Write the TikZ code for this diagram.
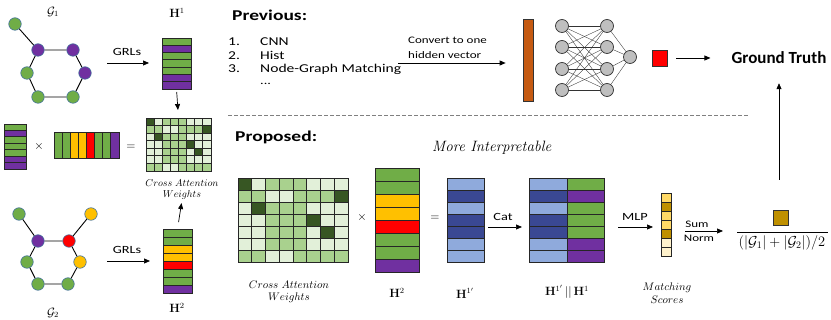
\documentclass[tikz,border=0pt]{standalone}
\usepackage[no-math]{fontspec}
\setmainfont[FakeStretch=1.3]{Carlito}
\newfontfamily\gtfont{Carlito}
\newfontfamily\lmfont{Latin Modern Roman}
\usetikzlibrary{arrows.meta}
\definecolor{cgr}{HTML}{70AD47}
\definecolor{cpu}{HTML}{7030A0}
\definecolor{cye}{HTML}{FFC000}
\definecolor{crd}{HTML}{FF0000}
\definecolor{clb}{HTML}{8FAADC}
\definecolor{cdb}{HTML}{3A4893}
\definecolor{cdk}{HTML}{375623}
\definecolor{cmd}{HTML}{A9D18E}
\definecolor{clt}{HTML}{E2F0D9}
\definecolor{cor}{HTML}{C55A11}
\definecolor{cgy}{HTML}{BFBFBF}
\definecolor{cgold}{HTML}{BF9000}
\definecolor{cly}{HTML}{FFD966}
\definecolor{cpl}{HTML}{FFF2CC}
\definecolor{cbl}{HTML}{41719C}
\newcommand\colvec[5]{\foreach \c [count=\i from 0] in {#5}{\filldraw[fill=\c,cellline] ({#1},{#2+\i*#4}) rectangle ++(#3,#4);}}
\newcommand\rowvec[5]{\foreach \c [count=\i from 0] in {#5}{\filldraw[fill=\c,cellline] ({#1+\i*#3},{#2}) rectangle ++(#3,#4);}}
\newcommand\attmat[4]{\foreach \rw [count=\r from 0] in {{cdk,clt,cmd,cmd,cmd,clt,clt,clt},{cmd,cmd,clt,clt,cmd,cmd,cmd,cdk},{clt,cdk,cmd,cmd,cmd,clt,clt,clt},{clt,clt,cmd,cmd,cmd,cdk,clt,clt},{clt,clt,cmd,cmd,cmd,clt,cdk,clt},{clt,clt,cmd,cmd,cmd,clt,clt,clt},{cmd,cmd,clt,clt,cmd,cmd,cmd,cmd}}{\foreach \c [count=\k from 0] in \rw {\filldraw[fill=\c,cellline] ({#1+\k*#3},{#2+\r*#4}) rectangle ++(#3,#4);}}}
\begin{document}
\begin{tikzpicture}[x=1pt,y=-1pt,
  cellline/.style={draw=black!85,line width=0.8pt},
  gnode/.style={circle,draw=cbl,line width=0.6pt,minimum size=12.5pt,inner sep=0pt},
  nnode/.style={circle,draw=black!80,fill=cgy,line width=0.7pt,minimum size=13pt,inner sep=0pt},
  gedge/.style={line width=0.9pt,black},
  nedge/.style={line width=0.35pt,black!80},
  arr/.style={-{Triangle[length=6pt,width=5pt]},line width=0.7pt},
  vbox/.style={inner sep=0pt,outer sep=0pt},
  txt/.style={inner sep=0pt,font=\fontsize{11}{13}\selectfont},
  ltxt/.style={inner sep=0pt,font=\fontsize{12}{14}\selectfont},
  stxt/.style={inner sep=0pt,font=\fontsize{10}{12}\selectfont},
  head/.style={inner sep=0pt,font=\fontsize{15}{18}\selectfont\bfseries},
  mlab/.style={inner sep=0pt,font=\fontsize{11.5}{13}\selectfont},
  mit/.style={inner sep=0pt,font=\fontsize{10}{12}\selectfont,align=center}
]
\useasboundingbox (0,0) rectangle (831,320);

% ---------- Graph G1 ----------
\node[gnode,fill=cgr] (a1) at (15,24) {};
\node[gnode,fill=cpu] (a2) at (38,50) {};
\node[gnode,fill=cpu] (a3) at (73,50) {};
\node[gnode,fill=cgr] (a4) at (27,73) {};
\node[gnode,fill=cpu] (a5) at (85,73) {};
\node[gnode,fill=cgr] (a6) at (38,97) {};
\node[gnode,fill=cgr] (a7) at (73,97) {};
\draw[gedge] (a1)--(a2) (a2)--(a3) (a2)--(a4) (a3)--(a5) (a4)--(a6) (a6)--(a7) (a7)--(a5);
\node[mlab] (g1lab) at (53,12) {$\mathcal{G}_1$};

% H1
\node[vbox,minimum width=29pt,minimum height=51pt] (h1) at (176.5,63.5) {};
\colvec{162}{38}{29}{7.29}{cgr,cpu,cgr,cgr,cgr,cpu,cpu}
\node[mlab] (h1lab) at (177,13) {$\mathbf{H}^1$};
\coordinate (grl1s) at (107,63);
\draw[arr,shorten >=13pt] (grl1s) -- (h1.west |- grl1s);
\node[txt] (grl1) at (127,52) {GRLs};

% small multiplication row
\node[vbox,minimum width=22pt,minimum height=45pt] (lv) at (15,146.5) {};
\colvec{4}{124}{22}{6.43}{cgr,cpu,cgr,cgr,cgr,cpu,cpu}
\node[mlab] (x1) at (39,147) {$\times$};
\node[vbox,minimum width=65pt,minimum height=26pt] (hv) at (86.5,145) {};
\rowvec{54}{132}{8.125}{26}{cgr,cgr,cye,cye,crd,cgr,cgr,cpu}
\node[mlab] (eq1) at (131,147) {$=$};
\node[vbox,minimum width=65pt,minimum height=53pt] (smat) at (178.5,144.5) {};
\attmat{146}{118}{8.125}{7.57}
\draw[arr,shorten <=3pt,shorten >=8pt] (h1.south) -- (smat.north);
\node[mit] (caw1) at (182,190) {$Cross\ Attention$\\[-1pt]$Weights$};

% ---------- Graph G2 ----------
\node[gnode,fill=cgr] (b1) at (19,214) {};
\node[gnode,fill=cye] (b2) at (91,214) {};
\node[gnode,fill=cpu] (b3) at (38,241) {};
\node[gnode,fill=crd] (b4) at (69,241) {};
\node[gnode,fill=cgr] (b5) at (27,262) {};
\node[gnode,fill=cye] (b6) at (80,262) {};
\node[gnode,fill=cgr] (b7) at (38,284) {};
\node[gnode,fill=cgr] (b8) at (68,284) {};
\draw[gedge] (b1)--(b3) (b3)--(b4) (b4)--(b2) (b3)--(b5) (b4)--(b6) (b5)--(b7) (b7)--(b8) (b8)--(b6);
\node[mlab] (g2lab) at (53,313) {$\mathcal{G}_2$};

% H2 small
\node[vbox,minimum width=29pt,minimum height=64pt] (h2s) at (177.5,261) {};
\colvec{163}{229}{29}{8}{cgr,cgr,cye,cye,crd,cgr,cgr,cpu}
\node[mlab] (h2slab) at (177,308) {$\mathbf{H}^2$};
\coordinate (grl2s) at (107,261);
\draw[arr,shorten >=13pt] (grl2s) -- (h2s.west |- grl2s);
\node[txt] (grl2) at (127,250) {GRLs};
\draw[arr,shorten <=7pt,shorten >=3pt] (h2s.north) -- (caw1.south);

% ---------- Previous ----------
\node[head,anchor=base west] (prev) at (232,21) {Previous:};
\node[ltxt,anchor=base west] (n1) at (228,46) {1.};
\node[ltxt,anchor=base west] (t1) at (260,46) {CNN};
\node[ltxt,anchor=base west] (n2) at (228,59.5) {2.};
\node[ltxt,anchor=base west] (t2) at (260,59.5) {Hist};
\node[ltxt,anchor=base west] (n3) at (228,73) {3.};
\node[ltxt,anchor=base west] (t3) at (260,73) {Node-Graph Matching};
\node[txt,anchor=base west] (t4) at (260,85) {...};
\node[stxt,anchor=base west,align=left] (conv) at (408,44) {Convert to one};
\node[stxt,anchor=base west,align=left] (conv2) at (408,59) {hidden vector};
\coordinate (cvs) at (398,63);
\node[draw=black!80,fill=cor,line width=0.7pt,minimum width=10pt,minimum height=82pt,inner sep=0pt] (bar) at (528,60) {};
\draw[arr,shorten >=17pt] (cvs) -- (bar.west |- cvs);

% NN
\foreach \j/\yy in {1/26,2/47,3/69,4/90}{
  \node[nnode] (p\j) at (562,\yy) {};
  \node[nnode] (q\j) at (607,\yy) {};
}
\node[nnode] (o) at (630,57) {};
\foreach \j in {1,...,4}{\foreach \k in {1,...,4}{\draw[nedge] (p\j)--(q\k);}
  \draw[nedge] (q\j)--(o);}
\node[draw=black!80,fill=crd,line width=0.7pt,minimum width=15pt,minimum height=16pt,inner sep=0pt] (red) at (659.5,58) {};
\node[inner sep=0pt,font=\gtfont\fontsize{17}{20}\selectfont\bfseries] (gt) at (779,58) {Ground Truth};
\draw[arr,shorten <=9pt,shorten >=21pt] (red.east) -- (gt.west);

% dashed separator
\coordinate (d1) at (228,115);
\coordinate (d2) at (748,115);
\draw[gray,line width=0.8pt,dash pattern=on 3.5pt off 2.5pt] (d1) -- (d2);

% ---------- Proposed ----------
\node[head,anchor=base west] (prop) at (235,142) {Proposed:};
\node[inner sep=0pt,anchor=base west,font=\lmfont\itshape\fontsize{15}{18}\selectfont] (mi) at (432,152) {More Interpretable};

\node[vbox,minimum width=110pt,minimum height=84pt] (bmat) at (293,220) {};
\attmat{238}{178}{13.75}{12}
\node[mit,font=\fontsize{11}{13}\selectfont] (caw2) at (289,292) {$Cross\ Attention$\\[-1pt]$Weights$};
\node[mlab] (x2) at (362,218) {$\times$};
\node[vbox,minimum width=44pt,minimum height=104pt] (h2b) at (397,220) {};
\colvec{375}{168}{44}{13}{cgr,cgr,cye,cye,crd,cgr,cgr,cpu}
\node[mlab] (h2blab) at (397,293) {$\mathbf{H}^2$};
\node[mlab] (eq2) at (435,218) {$=$};
\node[vbox,minimum width=37pt,minimum height=84pt] (h1p) at (465.5,220) {};
\colvec{447}{178}{37}{12}{clb,cdb,clb,cdb,cdb,clb,clb}
\node[mlab] (h1plab) at (465,293) {$\mathbf{H}^{1'}$};
\node[vbox,minimum width=75pt,minimum height=84pt] (cat) at (566.5,220) {};
\colvec{529}{178}{38}{12}{clb,cdb,clb,cdb,cdb,clb,clb}
\colvec{567}{178}{37}{12}{cgr,cpu,cgr,cgr,cgr,cpu,cpu}
\node[mlab] (catlab) at (567,292) {$\mathbf{H}^{1'}\,||\,\mathbf{H}^{1}$};
\coordinate (cats) at (488,227);
\draw[arr,shorten >=7pt] (cats) -- (cat.west |- cats);
\node[txt] (catt) at (503,217) {Cat};
\node[vbox,minimum width=10pt,minimum height=63pt] (ms) at (666,224.5) {};
\colvec{661}{193}{10}{9}{cly,cgold,cly,cly,cgold,cpl,cpl}
\node[mit,font=\fontsize{10.5}{13}\selectfont] (mslab) at (667,293) {$Matching$\\$Scores$};
\coordinate (mlps) at (618,227);
\draw[arr,shorten >=8pt] (mlps) -- (ms.west |- mlps);
\node[txt] (mlpt) at (635,217) {MLP};
\coordinate (sums) at (685,231);
\coordinate (sume) at (723,231);
\draw[arr] (sums) -- (sume);
\node[stxt] (sumt) at (697,224) {Sum};
\node[stxt] (normt) at (699,238.5) {Norm};
\node[draw=black!80,fill=cgold,line width=0.7pt,minimum size=15pt,inner sep=0pt] (gs) at (780.5,217.5) {};
\coordinate (fl) at (737,232);
\coordinate (fr) at (828,232);
\draw[line width=0.6pt] (fl) -- (fr);
\node[mlab,font=\fontsize{14.5}{16}\selectfont] (den) at (782,243) {$(|\mathcal{G}_1| + |\mathcal{G}_2|)/2$};
\coordinate (fup) at (779,180);
\draw[arr,shorten >=19pt] (fup) -- (gt.south);
\end{tikzpicture}
\end{document}
